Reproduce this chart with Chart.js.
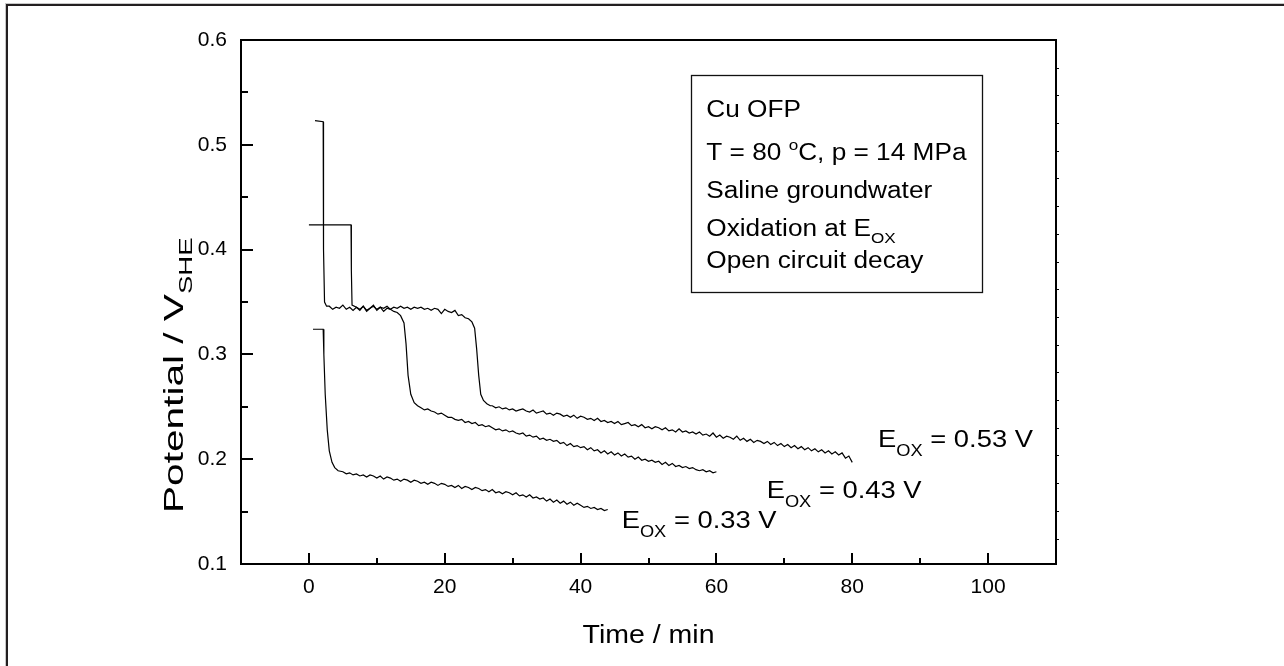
<!DOCTYPE html>
<html><head><meta charset="utf-8">
<script src="https://cdn.jsdelivr.net/npm/chart.js@4.4.0/dist/chart.umd.min.js"></script>
<style>
html,body{margin:0;padding:0;background:#fff;}
#wrap{position:relative;width:1284px;height:666px;overflow:hidden;background:#fff;}
#frame{position:absolute;left:6px;top:4px;width:1300px;height:700px;border-top:2px solid #231f20;border-left:2px solid #231f20;box-shadow:-1px -1px 0 #c8c8c8;}
canvas{position:absolute;left:0;top:0;}
</style></head><body>
<div id="wrap"><div id="frame"></div><canvas id="c" width="1284" height="666"></canvas></div>
<script>
// ---------------- data ----------------
const xTickValues = [0, 20, 40, 60, 80, 100];
const xMinorTicks = [10, 30, 50, 70, 90];
const yTickValues = [0.1, 0.2, 0.3, 0.4, 0.5, 0.6];
const yMinorTicks = [0.15, 0.25, 0.35, 0.45, 0.55];

// E_OX = 0.53 V
const t53 = [0.9, 2.1, 2.15, 2.3, 2.6,
  3.0,3.5,4.0,4.5,5.0,5.5,6.0,6.5,7.0,7.5,8.0,8.5,9.0,9.5,10.0,10.5,11.0,11.5,12.0,12.5,13.0,13.5,14.0,14.5,15.0,15.5,16.0,16.5,17.0,17.5,18.0,18.5,19.0,19.5,20.0,20.5,21.0,21.5,22.0,22.5,23.0,23.5,24.0,
  24.4,24.7,25.0,25.3,25.7,26.2,26.7,
  27,27.5,28,28.5,29,29.5,30,30.5,31,31.5,
  32,32.5,33,33.5,34,34.5,35,35.5,36,36.5,
  37,37.5,38,38.5,39,39.5,40,40.5,41,41.5,
  42,42.5,43,43.5,44,44.5,45,45.5,46,46.5,
  47,47.5,48,48.5,49,49.5,50,50.5,51,51.5,
  52,52.5,53,53.5,54,54.5,55,55.5,56,56.5,
  57,57.5,58,58.5,59,59.5,60,60.5,61,61.5,
  62,62.5,63,63.5,64,64.5,65,65.5,66,66.5,
  67,67.5,68,68.5,69,69.5,70,70.5,71,71.5,
  72,72.5,73,73.5,74,74.5,75,75.5,76,76.5,
  77,77.5,78,78.5,79,79.5,80];
const v53 = [0.523, 0.522, 0.400, 0.350, 0.346,
  .346,.343,.345,.344,.347,.343,.345,.342,.345,.343,.346,.342,.344,.346,.343,.345,.344,.346,.343,.345,.344,.346,.344,.345,.343,.345,.344,.345,.343,.344,.342,.344,.343,.339,.343,.341,.340,.342,.337,.338,.335,.334,.331,
  .325,.305,.280,.262,.256,.253,.251,
  .251,.249,.250,.248,.249,.247,.248,.246,.247,.248,
  .246,.245,.247,.244,.245,.246,.243,.244,.242,.244,
  .243,.241,.242,.240,.242,.239,.241,.240,.238,.239,
  .237,.239,.236,.237,.235,.236,.234,.236,.233,.234,
  .235,.232,.233,.231,.233,.230,.231,.229,.231,.230,
  .228,.230,.227,.228,.226,.229,.226,.227,.225,.226,
  .224,.226,.223,.224,.222,.225,.221,.223,.220,.222,
  .221,.219,.222,.218,.220,.217,.219,.216,.218,.217,
  .215,.217,.214,.216,.213,.215,.212,.214,.211,.213,
  .210,.212,.209,.211,.208,.210,.207,.209,.206,.208,
  .205,.207,.204,.206,.201,.203,.197];

// E_OX = 0.43 V
const t43 = [0.0, 6.2, 6.25, 6.35,
  7.0,7.5,8.0,8.5,9.0,9.5,10.0,10.5,11.0,11.5,12.0,12.5,13.0,
  13.5,14.0,14.3,14.6,15.0,15.5,16.0,
  16.5,17,17.5,18,18.5,19,19.5,20,20.5,
  21,21.5,22,22.5,23,23.5,24,24.5,25,25.5,
  26,26.5,27,27.5,28,28.5,29,29.5,30,30.5,
  31,31.5,32,32.5,33,33.5,34,34.5,35,35.5,
  36,36.5,37,37.5,38,38.5,39,39.5,40,40.5,
  41,41.5,42,42.5,43,43.5,44,44.5,45,45.5,
  46,46.5,47,47.5,48,48.5,49,49.5,50,50.5,
  51,51.5,52,52.5,53,53.5,54,54.5,55,55.5,
  56,56.5,57,57.5,58,58.5,59,59.5,60];
const v43 = [0.4235, 0.4235, 0.380, 0.347,
  .345,.342,.346,.341,.344,.347,.342,.345,.341,.344,.343,.341,.340,
  .337,.330,.310,.280,.262,.254,.251,
  .249,.247,.248,.246,.245,.243,.244,.242,.240,
  .240,.238,.237,.238,.235,.236,.234,.235,.232,.233,
  .231,.232,.230,.228,.229,.227,.228,.226,.227,.225,
  .224,.225,.222,.223,.221,.222,.219,.220,.218,.219,
  .217,.218,.215,.216,.213,.215,.212,.213,.211,.212,
  .209,.211,.208,.209,.206,.208,.205,.207,.204,.206,
  .203,.205,.202,.203,.200,.202,.199,.200,.198,.199,
  .197,.198,.195,.197,.194,.196,.193,.194,.192,.193,
  .191,.192,.190,.189,.190,.188,.189,.187,.188];

// E_OX = 0.33 V
const t33 = [0.6, 2.1, 2.2, 2.4, 2.7, 3.0, 3.4, 3.8, 4.3,
  5,5.5,6,6.5,7,7.5,8,8.5,9,9.5,
  10,10.5,11,11.5,12,12.5,13,13.5,14,14.5,
  15,15.5,16,16.5,17,17.5,18,18.5,19,19.5,
  20,20.5,21,21.5,22,22.5,23,23.5,24,24.5,
  25,25.5,26,26.5,27,27.5,28,28.5,29,29.5,
  30,30.5,31,31.5,32,32.5,33,33.5,34,34.5,
  35,35.5,36,36.5,37,37.5,38,38.5,39,39.5,
  40,40.5,41,41.5,42,42.5,43,43.5,44];
const v33 = [0.324, 0.324, 0.300, 0.262, 0.228, 0.208, 0.197, 0.192, 0.189,
  .188,.186,.187,.185,.186,.184,.185,.183,.185,.184,
  .182,.184,.181,.183,.182,.180,.181,.179,.181,.180,
  .178,.180,.179,.177,.178,.176,.178,.177,.175,.177,
  .176,.174,.175,.173,.175,.172,.174,.173,.171,.173,
  .172,.170,.171,.169,.171,.168,.169,.167,.169,.168,
  .166,.168,.165,.166,.164,.166,.163,.164,.162,.163,
  .160,.162,.159,.161,.158,.160,.157,.159,.156,.158,
  .156,.154,.155,.153,.154,.152,.153,.151,.152];

const seriesNames = ['0.53', '0.43', '0.33'];

// ---------------- helpers ----------------
function pts(ts, vs) { return ts.map((t, i) => ({ x: t, y: vs[i] })); }
const FONT = '"Liberation Sans", Arial, sans-serif';
const SX = 1.14; // horizontal stretch of the reference's lettering

function drawParts(ctx, x, y, parts, sx, align) {
  ctx.save();
  ctx.translate(x, y);
  ctx.scale(sx, 1);
  let w = 0;
  parts.forEach(p => { ctx.font = p.size + 'px ' + FONT; w += ctx.measureText(p.t).width; });
  let cx = align === 'center' ? -w / 2 : 0;
  ctx.textBaseline = 'alphabetic';
  ctx.textAlign = 'left';
  ctx.fillStyle = '#000';
  parts.forEach(p => {
    ctx.font = p.size + 'px ' + FONT;
    ctx.fillText(p.t, cx, p.dy || 0);
    cx += ctx.measureText(p.t).width;
  });
  ctx.restore();
}

const decor = {
  id: 'decor',
  afterDatasetsDraw(chart) {
    const ctx = chart.ctx, xs = chart.scales.x, ys = chart.scales.y, a = chart.chartArea;
    ctx.save();
    ctx.strokeStyle = '#000';
    ctx.lineWidth = 2;
    ctx.strokeRect(a.left, a.top, a.right - a.left, a.bottom - a.top);
    ctx.beginPath();
    yTickValues.forEach(v => { const y = Math.round(ys.getPixelForValue(v)); ctx.moveTo(a.left, y); ctx.lineTo(a.left + 12, y); });
    yMinorTicks.forEach(v => { const y = Math.round(ys.getPixelForValue(v)); ctx.moveTo(a.left, y); ctx.lineTo(a.left + 7, y); });
    xTickValues.forEach(v => { const x = Math.round(xs.getPixelForValue(v)); ctx.moveTo(x, a.bottom); ctx.lineTo(x, a.bottom - 11); });
    xMinorTicks.forEach(v => { const x = Math.round(xs.getPixelForValue(v)); ctx.moveTo(x, a.bottom); ctx.lineTo(x, a.bottom - 6); });
    ctx.stroke();
    ctx.lineWidth = 1;
    ctx.beginPath();
    for (let v = 0.6 - 0.02643; v > 0.105; v -= 0.02643) {
      const y = Math.round(ys.getPixelForValue(v)) + 0.5;
      ctx.moveTo(a.right, y); ctx.lineTo(a.right + 3, y);
    }
    ctx.stroke();

    const bx0 = xs.getPixelForValue(56.3), bx1 = xs.getPixelForValue(99.1);
    const by0 = ys.getPixelForValue(0.5666), by1 = ys.getPixelForValue(0.3595);
    ctx.lineWidth = 1.3;
    ctx.strokeStyle = '#111';
    ctx.strokeRect(Math.round(bx0) + 0.5, Math.round(by0) + 0.5, Math.round(bx1 - bx0), Math.round(by1 - by0));
    const tx = bx0 + 15;
    const fs = 23;
    drawParts(ctx, tx, by0 + 42, [{ t: 'Cu OFP', size: fs }], SX);
    drawParts(ctx, tx, by0 + 85, [{ t: 'T = 80 ', size: fs }, { t: 'o', size: 15, dy: -10 }, { t: 'C, p = 14 MPa', size: fs }], SX);
    drawParts(ctx, tx, by0 + 123, [{ t: 'Saline groundwater', size: fs }], SX);
    drawParts(ctx, tx, by0 + 161, [{ t: 'Oxidation at E', size: fs }, { t: 'OX', size: 15, dy: 7 }], SX);
    drawParts(ctx, tx, by0 + 193, [{ t: 'Open circuit decay', size: fs }], SX);

    const lab = (t, v, val) => drawParts(ctx, xs.getPixelForValue(t), ys.getPixelForValue(v),
      [{ t: 'E', size: 24 }, { t: 'OX', size: 16, dy: 9 }, { t: ' = ' + val + ' V', size: 24 }], SX);
    lab(83.8, 0.2116, seriesNames[0]);
    lab(67.4, 0.1630, seriesNames[1]);
    lab(46.05, 0.1344, seriesNames[2]);

    drawParts(ctx, (a.left + a.right) / 2, 643, [{ t: 'Time / min', size: 25 }], SX, 'center');
    ctx.save();
    ctx.translate(183, 513);
    ctx.rotate(-Math.PI / 2);
    drawParts(ctx, 0, 0, [{ t: 'Potential / V', size: 28 }, { t: 'SHE', size: 19, dy: 9 }], 1.45);
    ctx.restore();
    ctx.restore();
  }
};

const lineStyle = { borderColor: '#000', borderWidth: 1.2, pointRadius: 0, tension: 0, fill: false, showLine: true };

new Chart(document.getElementById('c'), {
  type: 'scatter',
  data: {
    datasets: [
      Object.assign({ label: 'E_OX = ' + seriesNames[0] + ' V', data: pts(t53, v53) }, lineStyle),
      Object.assign({ label: 'E_OX = ' + seriesNames[1] + ' V', data: pts(t43, v43) }, lineStyle),
      Object.assign({ label: 'E_OX = ' + seriesNames[2] + ' V', data: pts(t33, v33) }, lineStyle)
    ]
  },
  options: {
    responsive: false,
    devicePixelRatio: 1,
    animation: false,
    layout: { padding: { left: 0, top: 40, right: 228, bottom: 0 } },
    plugins: { legend: { display: false }, tooltip: { enabled: false } },
    scales: {
      x: {
        type: 'linear', min: -10, max: 110,
        afterBuildTicks: s => { s.ticks = xTickValues.map(v => ({ value: v })); },
        afterFit: s => { s.height = 102; },
        grid: { display: false, drawTicks: false },
        border: { display: false },
        ticks: { padding: 11, color: '#000', font: { family: FONT, size: 21 }, callback: v => String(v), maxRotation: 0, autoSkip: false }
      },
      y: {
        type: 'linear', min: 0.1, max: 0.6,
        afterBuildTicks: s => { s.ticks = yTickValues.map(v => ({ value: v })); },
        afterFit: s => { s.width = 241; },
        grid: { display: false, drawTicks: false },
        border: { display: false },
        ticks: { padding: 14, color: '#000', font: { family: FONT, size: 21 }, callback: v => Number(v).toFixed(1), autoSkip: false }
      }
    }
  },
  plugins: [decor]
});
</script>
</body></html>
